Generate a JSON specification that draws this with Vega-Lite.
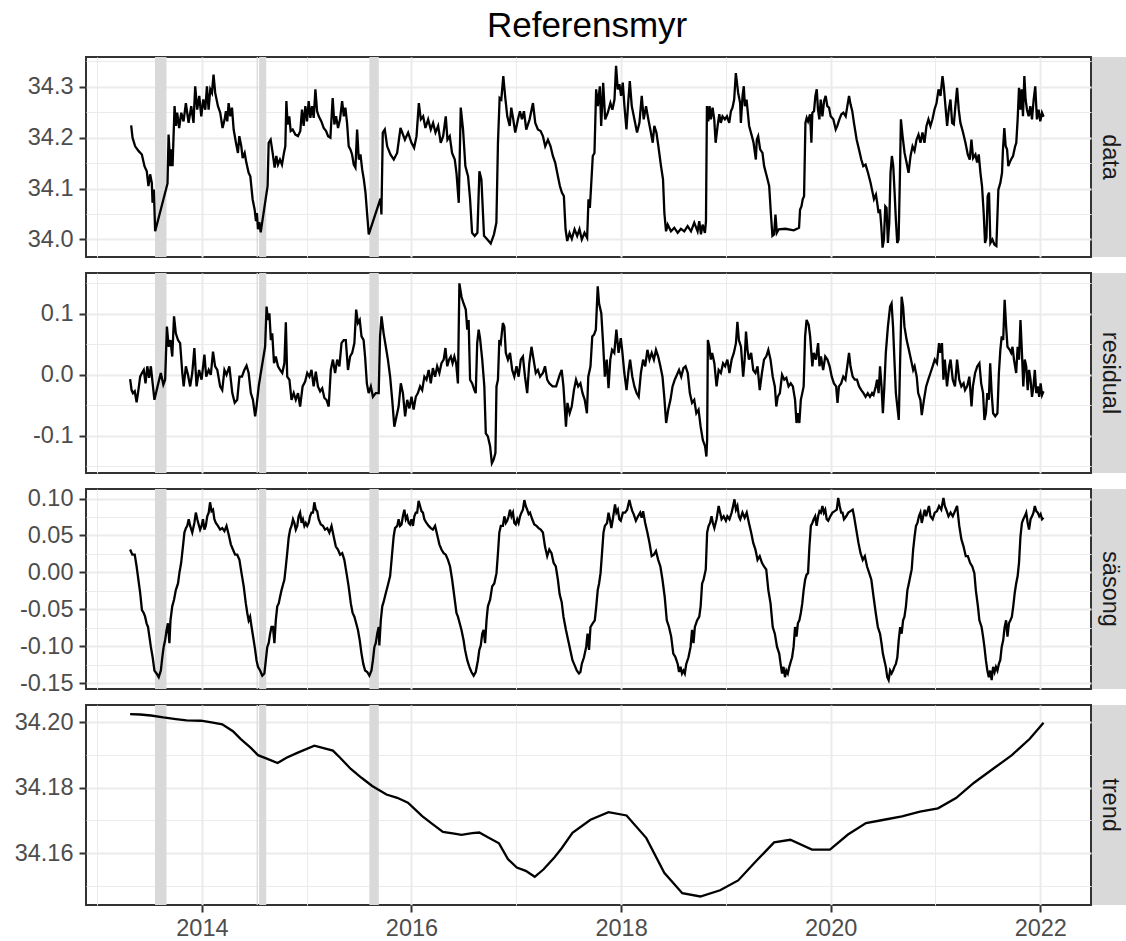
{
  "$schema": "https://vega.github.io/schema/vega-lite/v6.json",
  "background": "white",
  "padding": {"left": 13, "top": 9, "right": 0, "bottom": 0},
  "autosize": {"type": "pad"},
  "title": {"text": "Referensmyr", "fontSize": 35, "font": "Liberation Sans", "fontWeight": "normal", "color": "#000000", "anchor": "middle", "offset": 4, "dx": 17},
  "config": {
    "font": "Liberation Sans",
    "view": {"stroke": "#333333", "strokeWidth": 2},
    "axis": {"labelFont": "Liberation Sans", "labelFontSize": 23.5, "labelColor": "#4D4D4D", "tickColor": "#333333", "tickWidth": 2, "tickSize": 7, "domain": false, "gridColor": "#EBEBEB", "title": null, "labelOverlap": false, "labelFlush": false},
    "axisX": {"labelPadding": 4},
    "axisY": {"labelPadding": 6}
  },
  "datasets": {
    "bands": [{"s": 2013.552, "e": 2013.662}, {"s": 2014.522, "e": 2014.534}, {"s": 2014.546, "e": 2014.614}, {"s": 2015.598, "e": 2015.688}],
    "raw": [
{"t":2013.325,"v":34.224},{"t":2013.338,"v":34.200},{"t":2013.363,"v":34.183},{"t":2013.395,"v":34.174},{"t":2013.427,"v":34.167},{"t":2013.452,"v":34.144},{"t":2013.474,"v":34.134},{"t":2013.490,"v":34.105},{"t":2013.506,"v":34.128},{"t":2013.522,"v":34.111},{"t":2013.529,"v":34.072},{"t":2013.541,"v":34.098},{"t":2013.554,"v":34.016},{"t":2013.672,"v":34.110},{"t":2013.682,"v":34.206},{"t":2013.698,"v":34.144},{"t":2013.707,"v":34.177},{"t":2013.720,"v":34.144},{"t":2013.739,"v":34.262},{"t":2013.752,"v":34.223},{"t":2013.764,"v":34.249},{"t":2013.783,"v":34.219},{"t":2013.803,"v":34.249},{"t":2013.825,"v":34.232},{"t":2013.847,"v":34.268},{"t":2013.873,"v":34.229},{"t":2013.898,"v":34.262},{"t":2013.920,"v":34.229},{"t":2013.936,"v":34.301},{"t":2013.955,"v":34.255},{"t":2013.975,"v":34.282},{"t":2013.994,"v":34.242},{"t":2014.013,"v":34.275},{"t":2014.032,"v":34.255},{"t":2014.048,"v":34.301},{"t":2014.064,"v":34.255},{"t":2014.080,"v":34.295},{"t":2014.096,"v":34.288},{"t":2014.111,"v":34.324},{"t":2014.127,"v":34.288},{"t":2014.153,"v":34.262},{"t":2014.175,"v":34.249},{"t":2014.197,"v":34.219},{"t":2014.217,"v":34.236},{"t":2014.229,"v":34.252},{"t":2014.242,"v":34.232},{"t":2014.255,"v":34.268},{"t":2014.271,"v":34.242},{"t":2014.287,"v":34.259},{"t":2014.303,"v":34.216},{"t":2014.325,"v":34.190},{"t":2014.344,"v":34.170},{"t":2014.357,"v":34.203},{"t":2014.376,"v":34.183},{"t":2014.389,"v":34.160},{"t":2014.408,"v":34.170},{"t":2014.424,"v":34.151},{"t":2014.446,"v":34.131},{"t":2014.462,"v":34.124},{"t":2014.484,"v":34.079},{"t":2014.503,"v":34.059},{"t":2014.516,"v":34.036},{"t":2014.525,"v":34.052},{"t":2014.535,"v":34.020},{"t":2014.548,"v":34.034},{"t":2014.561,"v":34.014},{"t":2014.627,"v":34.105},{"t":2014.637,"v":34.190},{"t":2014.656,"v":34.196},{"t":2014.675,"v":34.170},{"t":2014.694,"v":34.141},{"t":2014.710,"v":34.164},{"t":2014.726,"v":34.147},{"t":2014.745,"v":34.157},{"t":2014.764,"v":34.147},{"t":2014.783,"v":34.170},{"t":2014.796,"v":34.183},{"t":2014.806,"v":34.272},{"t":2014.818,"v":34.226},{"t":2014.834,"v":34.242},{"t":2014.847,"v":34.213},{"t":2014.866,"v":34.216},{"t":2014.892,"v":34.206},{"t":2014.917,"v":34.203},{"t":2014.939,"v":34.213},{"t":2014.955,"v":34.255},{"t":2014.971,"v":34.223},{"t":2014.987,"v":34.262},{"t":2015.003,"v":34.232},{"t":2015.019,"v":34.272},{"t":2015.035,"v":34.239},{"t":2015.051,"v":34.262},{"t":2015.067,"v":34.239},{"t":2015.083,"v":34.295},{"t":2015.099,"v":34.252},{"t":2015.115,"v":34.242},{"t":2015.140,"v":34.232},{"t":2015.162,"v":34.219},{"t":2015.185,"v":34.213},{"t":2015.204,"v":34.203},{"t":2015.226,"v":34.200},{"t":2015.248,"v":34.278},{"t":2015.264,"v":34.226},{"t":2015.280,"v":34.242},{"t":2015.299,"v":34.219},{"t":2015.318,"v":34.236},{"t":2015.338,"v":34.272},{"t":2015.354,"v":34.242},{"t":2015.369,"v":34.259},{"t":2015.385,"v":34.229},{"t":2015.401,"v":34.183},{"t":2015.417,"v":34.177},{"t":2015.433,"v":34.167},{"t":2015.449,"v":34.147},{"t":2015.465,"v":34.141},{"t":2015.481,"v":34.216},{"t":2015.497,"v":34.157},{"t":2015.513,"v":34.167},{"t":2015.529,"v":34.138},{"t":2015.545,"v":34.118},{"t":2015.561,"v":34.092},{"t":2015.576,"v":34.052},{"t":2015.592,"v":34.010},{"t":2015.704,"v":34.080},{"t":2015.713,"v":34.049},{"t":2015.726,"v":34.210},{"t":2015.745,"v":34.216},{"t":2015.768,"v":34.183},{"t":2015.799,"v":34.167},{"t":2015.831,"v":34.157},{"t":2015.863,"v":34.170},{"t":2015.895,"v":34.219},{"t":2015.937,"v":34.196},{"t":2015.968,"v":34.210},{"t":2016.000,"v":34.190},{"t":2016.025,"v":34.180},{"t":2016.048,"v":34.203},{"t":2016.070,"v":34.268},{"t":2016.089,"v":34.236},{"t":2016.111,"v":34.242},{"t":2016.133,"v":34.219},{"t":2016.159,"v":34.236},{"t":2016.184,"v":34.216},{"t":2016.206,"v":34.229},{"t":2016.229,"v":34.210},{"t":2016.254,"v":34.223},{"t":2016.279,"v":34.190},{"t":2016.302,"v":34.203},{"t":2016.327,"v":34.242},{"t":2016.343,"v":34.196},{"t":2016.365,"v":34.203},{"t":2016.387,"v":34.170},{"t":2016.413,"v":34.157},{"t":2016.429,"v":34.131},{"t":2016.451,"v":34.072},{"t":2016.470,"v":34.259},{"t":2016.492,"v":34.216},{"t":2016.514,"v":34.144},{"t":2016.540,"v":34.124},{"t":2016.559,"v":34.079},{"t":2016.578,"v":34.013},{"t":2016.603,"v":34.007},{"t":2016.629,"v":34.013},{"t":2016.648,"v":34.134},{"t":2016.667,"v":34.118},{"t":2016.692,"v":34.007},{"t":2016.724,"v":34.000},{"t":2016.756,"v":33.992},{"t":2016.787,"v":34.010},{"t":2016.810,"v":34.033},{"t":2016.825,"v":34.190},{"t":2016.841,"v":34.278},{"t":2016.857,"v":34.275},{"t":2016.876,"v":34.321},{"t":2016.895,"v":34.278},{"t":2016.914,"v":34.242},{"t":2016.937,"v":34.223},{"t":2016.952,"v":34.259},{"t":2016.971,"v":34.236},{"t":2016.990,"v":34.210},{"t":2017.016,"v":34.236},{"t":2017.035,"v":34.252},{"t":2017.054,"v":34.236},{"t":2017.073,"v":34.252},{"t":2017.095,"v":34.216},{"t":2017.127,"v":34.236},{"t":2017.159,"v":34.268},{"t":2017.181,"v":34.229},{"t":2017.206,"v":34.216},{"t":2017.232,"v":34.213},{"t":2017.254,"v":34.203},{"t":2017.276,"v":34.183},{"t":2017.302,"v":34.196},{"t":2017.327,"v":34.183},{"t":2017.349,"v":34.164},{"t":2017.371,"v":34.151},{"t":2017.397,"v":34.124},{"t":2017.416,"v":34.105},{"t":2017.435,"v":34.092},{"t":2017.454,"v":34.085},{"t":2017.470,"v":34.020},{"t":2017.486,"v":33.997},{"t":2017.508,"v":34.013},{"t":2017.530,"v":34.001},{"t":2017.556,"v":34.020},{"t":2017.581,"v":34.007},{"t":2017.603,"v":34.020},{"t":2017.625,"v":34.000},{"t":2017.651,"v":34.013},{"t":2017.676,"v":34.003},{"t":2017.689,"v":34.079},{"t":2017.702,"v":34.062},{"t":2017.714,"v":34.105},{"t":2017.730,"v":34.164},{"t":2017.746,"v":34.170},{"t":2017.762,"v":34.295},{"t":2017.778,"v":34.262},{"t":2017.797,"v":34.301},{"t":2017.810,"v":34.223},{"t":2017.829,"v":34.308},{"t":2017.848,"v":34.236},{"t":2017.873,"v":34.249},{"t":2017.898,"v":34.268},{"t":2017.917,"v":34.255},{"t":2017.937,"v":34.275},{"t":2017.952,"v":34.341},{"t":2017.968,"v":34.295},{"t":2017.984,"v":34.305},{"t":2018.000,"v":34.282},{"t":2018.016,"v":34.308},{"t":2018.032,"v":34.262},{"t":2018.051,"v":34.216},{"t":2018.070,"v":34.275},{"t":2018.083,"v":34.311},{"t":2018.102,"v":34.262},{"t":2018.127,"v":34.236},{"t":2018.152,"v":34.210},{"t":2018.175,"v":34.229},{"t":2018.197,"v":34.282},{"t":2018.216,"v":34.236},{"t":2018.238,"v":34.262},{"t":2018.260,"v":34.236},{"t":2018.279,"v":34.216},{"t":2018.302,"v":34.190},{"t":2018.317,"v":34.223},{"t":2018.337,"v":34.210},{"t":2018.356,"v":34.183},{"t":2018.381,"v":34.144},{"t":2018.400,"v":34.118},{"t":2018.413,"v":34.052},{"t":2018.429,"v":34.016},{"t":2018.445,"v":34.029},{"t":2018.476,"v":34.016},{"t":2018.508,"v":34.023},{"t":2018.540,"v":34.013},{"t":2018.571,"v":34.021},{"t":2018.603,"v":34.016},{"t":2018.635,"v":34.026},{"t":2018.667,"v":34.016},{"t":2018.698,"v":34.033},{"t":2018.730,"v":34.016},{"t":2018.746,"v":34.036},{"t":2018.762,"v":34.010},{"t":2018.778,"v":34.029},{"t":2018.800,"v":34.013},{"t":2018.810,"v":34.036},{"t":2018.819,"v":34.262},{"t":2018.832,"v":34.232},{"t":2018.844,"v":34.262},{"t":2018.857,"v":34.236},{"t":2018.873,"v":34.259},{"t":2018.889,"v":34.236},{"t":2018.902,"v":34.190},{"t":2018.921,"v":34.223},{"t":2018.937,"v":34.246},{"t":2018.952,"v":34.229},{"t":2018.968,"v":34.242},{"t":2018.990,"v":34.236},{"t":2019.010,"v":34.242},{"t":2019.032,"v":34.229},{"t":2019.048,"v":34.252},{"t":2019.063,"v":34.259},{"t":2019.079,"v":34.275},{"t":2019.095,"v":34.327},{"t":2019.117,"v":34.288},{"t":2019.136,"v":34.268},{"t":2019.143,"v":34.229},{"t":2019.159,"v":34.282},{"t":2019.171,"v":34.301},{"t":2019.181,"v":34.262},{"t":2019.197,"v":34.275},{"t":2019.222,"v":34.223},{"t":2019.248,"v":34.203},{"t":2019.264,"v":34.190},{"t":2019.286,"v":34.157},{"t":2019.295,"v":34.196},{"t":2019.308,"v":34.203},{"t":2019.327,"v":34.177},{"t":2019.349,"v":34.170},{"t":2019.365,"v":34.144},{"t":2019.390,"v":34.124},{"t":2019.413,"v":34.105},{"t":2019.429,"v":34.052},{"t":2019.444,"v":34.007},{"t":2019.460,"v":34.010},{"t":2019.473,"v":34.049},{"t":2019.486,"v":34.013},{"t":2019.505,"v":34.020},{"t":2019.568,"v":34.021},{"t":2019.648,"v":34.018},{"t":2019.698,"v":34.023},{"t":2019.708,"v":34.059},{"t":2019.721,"v":34.065},{"t":2019.733,"v":34.079},{"t":2019.746,"v":34.085},{"t":2019.759,"v":34.229},{"t":2019.771,"v":34.239},{"t":2019.784,"v":34.232},{"t":2019.803,"v":34.246},{"t":2019.816,"v":34.190},{"t":2019.825,"v":34.249},{"t":2019.841,"v":34.252},{"t":2019.854,"v":34.282},{"t":2019.867,"v":34.295},{"t":2019.879,"v":34.255},{"t":2019.892,"v":34.236},{"t":2019.905,"v":34.275},{"t":2019.921,"v":34.242},{"t":2019.937,"v":34.272},{"t":2019.952,"v":34.282},{"t":2019.968,"v":34.262},{"t":2019.984,"v":34.259},{"t":2020.000,"v":34.242},{"t":2020.025,"v":34.236},{"t":2020.048,"v":34.216},{"t":2020.063,"v":34.223},{"t":2020.083,"v":34.236},{"t":2020.102,"v":34.246},{"t":2020.121,"v":34.249},{"t":2020.143,"v":34.242},{"t":2020.159,"v":34.262},{"t":2020.175,"v":34.282},{"t":2020.190,"v":34.265},{"t":2020.206,"v":34.252},{"t":2020.222,"v":34.229},{"t":2020.248,"v":34.196},{"t":2020.270,"v":34.177},{"t":2020.292,"v":34.157},{"t":2020.311,"v":34.144},{"t":2020.333,"v":34.147},{"t":2020.356,"v":34.131},{"t":2020.381,"v":34.111},{"t":2020.400,"v":34.092},{"t":2020.413,"v":34.079},{"t":2020.432,"v":34.088},{"t":2020.444,"v":34.072},{"t":2020.457,"v":34.052},{"t":2020.470,"v":34.059},{"t":2020.483,"v":34.026},{"t":2020.495,"v":33.984},{"t":2020.508,"v":34.000},{"t":2020.521,"v":34.065},{"t":2020.533,"v":34.062},{"t":2020.546,"v":33.993},{"t":2020.559,"v":34.033},{"t":2020.571,"v":34.131},{"t":2020.584,"v":34.164},{"t":2020.597,"v":34.144},{"t":2020.610,"v":34.092},{"t":2020.622,"v":34.039},{"t":2020.635,"v":33.993},{"t":2020.648,"v":34.000},{"t":2020.660,"v":34.118},{"t":2020.670,"v":34.236},{"t":2020.686,"v":34.203},{"t":2020.705,"v":34.170},{"t":2020.724,"v":34.151},{"t":2020.743,"v":34.131},{"t":2020.762,"v":34.164},{"t":2020.781,"v":34.183},{"t":2020.800,"v":34.174},{"t":2020.819,"v":34.196},{"t":2020.838,"v":34.206},{"t":2020.857,"v":34.190},{"t":2020.876,"v":34.210},{"t":2020.895,"v":34.190},{"t":2020.914,"v":34.223},{"t":2020.933,"v":34.236},{"t":2020.952,"v":34.223},{"t":2020.971,"v":34.236},{"t":2020.990,"v":34.255},{"t":2021.010,"v":34.268},{"t":2021.029,"v":34.295},{"t":2021.048,"v":34.282},{"t":2021.067,"v":34.321},{"t":2021.079,"v":34.301},{"t":2021.095,"v":34.262},{"t":2021.111,"v":34.223},{"t":2021.127,"v":34.255},{"t":2021.143,"v":34.275},{"t":2021.159,"v":34.229},{"t":2021.175,"v":34.226},{"t":2021.190,"v":34.262},{"t":2021.206,"v":34.298},{"t":2021.222,"v":34.255},{"t":2021.238,"v":34.229},{"t":2021.263,"v":34.210},{"t":2021.286,"v":34.190},{"t":2021.308,"v":34.167},{"t":2021.327,"v":34.157},{"t":2021.343,"v":34.196},{"t":2021.359,"v":34.160},{"t":2021.381,"v":34.167},{"t":2021.397,"v":34.151},{"t":2021.413,"v":34.167},{"t":2021.429,"v":34.131},{"t":2021.444,"v":34.105},{"t":2021.460,"v":34.052},{"t":2021.473,"v":33.993},{"t":2021.486,"v":34.003},{"t":2021.498,"v":34.085},{"t":2021.511,"v":34.092},{"t":2021.524,"v":33.993},{"t":2021.543,"v":34.000},{"t":2021.562,"v":33.990},{"t":2021.581,"v":33.987},{"t":2021.600,"v":34.098},{"t":2021.619,"v":34.111},{"t":2021.635,"v":34.131},{"t":2021.644,"v":34.177},{"t":2021.657,"v":34.219},{"t":2021.670,"v":34.183},{"t":2021.683,"v":34.177},{"t":2021.695,"v":34.144},{"t":2021.708,"v":34.151},{"t":2021.721,"v":34.157},{"t":2021.740,"v":34.164},{"t":2021.760,"v":34.183},{"t":2021.771,"v":34.190},{"t":2021.784,"v":34.236},{"t":2021.797,"v":34.298},{"t":2021.810,"v":34.255},{"t":2021.822,"v":34.295},{"t":2021.835,"v":34.242},{"t":2021.848,"v":34.321},{"t":2021.860,"v":34.275},{"t":2021.873,"v":34.255},{"t":2021.889,"v":34.242},{"t":2021.905,"v":34.262},{"t":2021.921,"v":34.236},{"t":2021.937,"v":34.275},{"t":2021.952,"v":34.301},{"t":2021.968,"v":34.236},{"t":2021.984,"v":34.255},{"t":2022.000,"v":34.232},{"t":2022.016,"v":34.249},{"t":2022.032,"v":34.241}
    ],
    "resid": [
{"t":2013.315,"v":-0.007},{"t":2013.329,"v":-0.025},{"t":2013.342,"v":-0.030},{"t":2013.359,"v":-0.027},{"t":2013.377,"v":-0.045},{"t":2013.394,"v":-0.025},{"t":2013.411,"v":-0.003},{"t":2013.428,"v":0.003},{"t":2013.445,"v":0.008},{"t":2013.462,"v":-0.014},{"t":2013.479,"v":0.014},{"t":2013.496,"v":-0.005},{"t":2013.513,"v":0.014},{"t":2013.530,"v":-0.014},{"t":2013.547,"v":-0.041},{"t":2013.581,"v":-0.016},{"t":2013.608,"v":0.003},{"t":2013.632,"v":-0.016},{"t":2013.649,"v":-0.008},{"t":2013.666,"v":0.079},{"t":2013.683,"v":0.046},{"t":2013.700,"v":0.057},{"t":2013.717,"v":0.030},{"t":2013.734,"v":0.096},{"t":2013.751,"v":0.068},{"t":2013.772,"v":0.057},{"t":2013.792,"v":0.052},{"t":2013.813,"v":0.003},{"t":2013.826,"v":-0.019},{"t":2013.847,"v":0.014},{"t":2013.867,"v":0.000},{"t":2013.888,"v":-0.019},{"t":2013.908,"v":0.003},{"t":2013.928,"v":0.044},{"t":2013.949,"v":-0.019},{"t":2013.973,"v":0.008},{"t":2013.997,"v":-0.008},{"t":2014.024,"v":0.033},{"t":2014.041,"v":-0.003},{"t":2014.065,"v":0.008},{"t":2014.085,"v":0.000},{"t":2014.106,"v":0.038},{"t":2014.126,"v":0.014},{"t":2014.147,"v":0.008},{"t":2014.174,"v":-0.019},{"t":2014.194,"v":-0.025},{"t":2014.215,"v":0.008},{"t":2014.235,"v":0.000},{"t":2014.262,"v":0.014},{"t":2014.290,"v":-0.030},{"t":2014.313,"v":-0.046},{"t":2014.337,"v":-0.041},{"t":2014.358,"v":-0.003},{"t":2014.382,"v":-0.003},{"t":2014.405,"v":0.008},{"t":2014.426,"v":0.015},{"t":2014.446,"v":0.003},{"t":2014.467,"v":-0.030},{"t":2014.487,"v":-0.041},{"t":2014.508,"v":-0.068},{"t":2014.521,"v":-0.052},{"t":2014.542,"v":-0.019},{"t":2014.562,"v":0.003},{"t":2014.583,"v":0.025},{"t":2014.603,"v":0.046},{"t":2014.617,"v":0.112},{"t":2014.630,"v":0.090},{"t":2014.644,"v":0.101},{"t":2014.658,"v":0.057},{"t":2014.671,"v":0.068},{"t":2014.688,"v":0.019},{"t":2014.705,"v":0.030},{"t":2014.726,"v":0.014},{"t":2014.746,"v":0.008},{"t":2014.767,"v":0.003},{"t":2014.787,"v":0.019},{"t":2014.801,"v":0.086},{"t":2014.814,"v":-0.003},{"t":2014.835,"v":-0.008},{"t":2014.855,"v":-0.041},{"t":2014.876,"v":-0.030},{"t":2014.896,"v":-0.041},{"t":2014.917,"v":-0.030},{"t":2014.937,"v":-0.052},{"t":2014.961,"v":-0.019},{"t":2014.985,"v":-0.011},{"t":2015.005,"v":0.003},{"t":2015.026,"v":-0.003},{"t":2015.046,"v":0.008},{"t":2015.066,"v":-0.019},{"t":2015.087,"v":0.005},{"t":2015.107,"v":-0.019},{"t":2015.128,"v":-0.027},{"t":2015.148,"v":-0.022},{"t":2015.169,"v":-0.038},{"t":2015.189,"v":-0.041},{"t":2015.210,"v":-0.052},{"t":2015.230,"v":0.008},{"t":2015.250,"v":0.025},{"t":2015.271,"v":0.003},{"t":2015.291,"v":0.025},{"t":2015.312,"v":0.014},{"t":2015.332,"v":0.052},{"t":2015.353,"v":0.057},{"t":2015.373,"v":0.057},{"t":2015.394,"v":0.008},{"t":2015.414,"v":0.030},{"t":2015.434,"v":0.036},{"t":2015.455,"v":0.052},{"t":2015.472,"v":0.107},{"t":2015.489,"v":0.085},{"t":2015.506,"v":0.090},{"t":2015.523,"v":0.063},{"t":2015.543,"v":0.057},{"t":2015.557,"v":0.030},{"t":2015.574,"v":-0.014},{"t":2015.591,"v":-0.030},{"t":2015.612,"v":-0.019},{"t":2015.632,"v":-0.036},{"t":2015.659,"v":-0.030},{"t":2015.687,"v":-0.030},{"t":2015.700,"v":0.063},{"t":2015.714,"v":0.096},{"t":2015.734,"v":0.068},{"t":2015.755,"v":0.046},{"t":2015.775,"v":0.025},{"t":2015.796,"v":-0.003},{"t":2015.816,"v":-0.041},{"t":2015.836,"v":-0.085},{"t":2015.857,"v":-0.068},{"t":2015.877,"v":-0.052},{"t":2015.898,"v":-0.014},{"t":2015.918,"v":-0.030},{"t":2015.939,"v":-0.068},{"t":2015.959,"v":-0.041},{"t":2015.980,"v":-0.055},{"t":2016.000,"v":-0.036},{"t":2016.020,"v":-0.057},{"t":2016.041,"v":-0.036},{"t":2016.061,"v":-0.030},{"t":2016.082,"v":-0.019},{"t":2016.102,"v":-0.025},{"t":2016.123,"v":-0.003},{"t":2016.143,"v":-0.008},{"t":2016.164,"v":0.008},{"t":2016.184,"v":-0.014},{"t":2016.204,"v":0.011},{"t":2016.225,"v":-0.003},{"t":2016.245,"v":0.014},{"t":2016.266,"v":0.003},{"t":2016.286,"v":0.019},{"t":2016.307,"v":0.025},{"t":2016.324,"v":0.044},{"t":2016.341,"v":0.014},{"t":2016.358,"v":0.025},{"t":2016.375,"v":0.030},{"t":2016.392,"v":0.019},{"t":2016.409,"v":0.030},{"t":2016.426,"v":0.019},{"t":2016.443,"v":-0.014},{"t":2016.457,"v":0.150},{"t":2016.477,"v":0.128},{"t":2016.497,"v":0.117},{"t":2016.518,"v":0.107},{"t":2016.532,"v":0.074},{"t":2016.545,"v":0.090},{"t":2016.559,"v":-0.008},{"t":2016.579,"v":-0.014},{"t":2016.600,"v":-0.025},{"t":2016.613,"v":-0.030},{"t":2016.627,"v":0.052},{"t":2016.641,"v":0.074},{"t":2016.654,"v":0.060},{"t":2016.675,"v":0.025},{"t":2016.695,"v":-0.019},{"t":2016.709,"v":-0.096},{"t":2016.729,"v":-0.101},{"t":2016.750,"v":-0.117},{"t":2016.767,"v":-0.145},{"t":2016.784,"v":-0.139},{"t":2016.801,"v":-0.128},{"t":2016.811,"v":-0.019},{"t":2016.825,"v":-0.008},{"t":2016.838,"v":0.057},{"t":2016.852,"v":0.052},{"t":2016.872,"v":0.085},{"t":2016.886,"v":0.079},{"t":2016.900,"v":0.036},{"t":2016.920,"v":0.025},{"t":2016.940,"v":0.036},{"t":2016.961,"v":0.008},{"t":2016.981,"v":-0.003},{"t":2017.002,"v":0.014},{"t":2017.022,"v":-0.003},{"t":2017.043,"v":0.025},{"t":2017.063,"v":0.030},{"t":2017.083,"v":-0.003},{"t":2017.104,"v":-0.030},{"t":2017.124,"v":0.019},{"t":2017.145,"v":0.046},{"t":2017.165,"v":0.025},{"t":2017.186,"v":0.003},{"t":2017.206,"v":0.008},{"t":2017.227,"v":-0.003},{"t":2017.254,"v":0.003},{"t":2017.274,"v":0.014},{"t":2017.295,"v":-0.008},{"t":2017.315,"v":-0.014},{"t":2017.346,"v":-0.019},{"t":2017.380,"v":-0.019},{"t":2017.414,"v":0.000},{"t":2017.433,"v":0.008},{"t":2017.450,"v":-0.019},{"t":2017.474,"v":-0.085},{"t":2017.488,"v":-0.046},{"t":2017.509,"v":-0.063},{"t":2017.529,"v":-0.052},{"t":2017.550,"v":-0.025},{"t":2017.570,"v":-0.008},{"t":2017.591,"v":-0.019},{"t":2017.612,"v":-0.014},{"t":2017.632,"v":-0.030},{"t":2017.653,"v":-0.041},{"t":2017.674,"v":-0.063},{"t":2017.687,"v":-0.003},{"t":2017.708,"v":0.014},{"t":2017.725,"v":0.063},{"t":2017.742,"v":0.066},{"t":2017.759,"v":0.074},{"t":2017.777,"v":0.145},{"t":2017.790,"v":0.117},{"t":2017.811,"v":0.101},{"t":2017.828,"v":0.052},{"t":2017.845,"v":-0.003},{"t":2017.863,"v":0.025},{"t":2017.880,"v":-0.022},{"t":2017.897,"v":0.025},{"t":2017.914,"v":0.041},{"t":2017.935,"v":0.036},{"t":2017.955,"v":0.074},{"t":2017.976,"v":0.036},{"t":2017.997,"v":0.060},{"t":2018.010,"v":0.041},{"t":2018.031,"v":0.003},{"t":2018.052,"v":-0.025},{"t":2018.072,"v":0.008},{"t":2018.086,"v":0.025},{"t":2018.107,"v":-0.003},{"t":2018.127,"v":-0.019},{"t":2018.148,"v":-0.030},{"t":2018.168,"v":-0.036},{"t":2018.189,"v":0.003},{"t":2018.210,"v":0.025},{"t":2018.230,"v":0.014},{"t":2018.251,"v":0.041},{"t":2018.271,"v":0.025},{"t":2018.292,"v":0.036},{"t":2018.313,"v":0.025},{"t":2018.333,"v":0.041},{"t":2018.354,"v":0.030},{"t":2018.375,"v":0.014},{"t":2018.395,"v":-0.003},{"t":2018.412,"v":-0.036},{"t":2018.430,"v":-0.079},{"t":2018.450,"v":-0.057},{"t":2018.471,"v":-0.041},{"t":2018.491,"v":-0.019},{"t":2018.512,"v":-0.008},{"t":2018.533,"v":0.000},{"t":2018.553,"v":0.008},{"t":2018.574,"v":-0.003},{"t":2018.595,"v":0.011},{"t":2018.615,"v":0.014},{"t":2018.636,"v":0.003},{"t":2018.656,"v":-0.030},{"t":2018.677,"v":-0.046},{"t":2018.698,"v":-0.041},{"t":2018.718,"v":-0.063},{"t":2018.739,"v":-0.057},{"t":2018.759,"v":-0.085},{"t":2018.780,"v":-0.107},{"t":2018.801,"v":-0.117},{"t":2018.814,"v":-0.134},{"t":2018.821,"v":-0.107},{"t":2018.828,"v":0.057},{"t":2018.842,"v":0.046},{"t":2018.856,"v":0.025},{"t":2018.869,"v":0.036},{"t":2018.890,"v":0.019},{"t":2018.911,"v":-0.019},{"t":2018.931,"v":0.008},{"t":2018.952,"v":0.003},{"t":2018.973,"v":0.019},{"t":2018.993,"v":0.014},{"t":2019.014,"v":0.025},{"t":2019.034,"v":0.003},{"t":2019.055,"v":0.025},{"t":2019.076,"v":0.036},{"t":2019.096,"v":0.052},{"t":2019.110,"v":0.087},{"t":2019.124,"v":0.057},{"t":2019.144,"v":0.046},{"t":2019.165,"v":-0.003},{"t":2019.179,"v":0.025},{"t":2019.192,"v":0.071},{"t":2019.206,"v":0.041},{"t":2019.220,"v":0.025},{"t":2019.241,"v":0.036},{"t":2019.261,"v":0.008},{"t":2019.282,"v":0.003},{"t":2019.302,"v":0.014},{"t":2019.323,"v":-0.025},{"t":2019.344,"v":0.003},{"t":2019.364,"v":0.025},{"t":2019.385,"v":0.030},{"t":2019.405,"v":0.041},{"t":2019.426,"v":0.025},{"t":2019.447,"v":-0.003},{"t":2019.467,"v":-0.019},{"t":2019.481,"v":-0.052},{"t":2019.495,"v":-0.036},{"t":2019.515,"v":-0.030},{"t":2019.536,"v":0.000},{"t":2019.557,"v":-0.008},{"t":2019.577,"v":-0.005},{"t":2019.598,"v":-0.019},{"t":2019.619,"v":-0.014},{"t":2019.639,"v":-0.019},{"t":2019.660,"v":-0.041},{"t":2019.674,"v":-0.079},{"t":2019.687,"v":-0.063},{"t":2019.701,"v":-0.079},{"t":2019.715,"v":-0.041},{"t":2019.729,"v":-0.030},{"t":2019.742,"v":-0.019},{"t":2019.756,"v":0.063},{"t":2019.770,"v":0.090},{"t":2019.790,"v":0.082},{"t":2019.804,"v":0.063},{"t":2019.825,"v":0.014},{"t":2019.838,"v":0.036},{"t":2019.859,"v":0.025},{"t":2019.880,"v":0.052},{"t":2019.893,"v":0.014},{"t":2019.907,"v":0.030},{"t":2019.928,"v":0.008},{"t":2019.948,"v":0.030},{"t":2019.969,"v":0.025},{"t":2019.990,"v":0.014},{"t":2020.010,"v":-0.003},{"t":2020.031,"v":-0.014},{"t":2020.052,"v":-0.019},{"t":2020.065,"v":-0.046},{"t":2020.079,"v":-0.019},{"t":2020.100,"v":-0.014},{"t":2020.120,"v":-0.003},{"t":2020.141,"v":-0.008},{"t":2020.162,"v":0.019},{"t":2020.175,"v":0.036},{"t":2020.189,"v":0.014},{"t":2020.210,"v":-0.003},{"t":2020.230,"v":-0.008},{"t":2020.251,"v":-0.008},{"t":2020.271,"v":-0.019},{"t":2020.292,"v":-0.025},{"t":2020.313,"v":-0.030},{"t":2020.333,"v":-0.036},{"t":2020.354,"v":-0.030},{"t":2020.375,"v":-0.036},{"t":2020.395,"v":-0.030},{"t":2020.409,"v":-0.033},{"t":2020.430,"v":-0.019},{"t":2020.443,"v":-0.008},{"t":2020.457,"v":-0.030},{"t":2020.471,"v":0.014},{"t":2020.485,"v":-0.019},{"t":2020.498,"v":-0.063},{"t":2020.512,"v":-0.019},{"t":2020.526,"v":0.036},{"t":2020.546,"v":0.079},{"t":2020.567,"v":0.112},{"t":2020.581,"v":0.117},{"t":2020.595,"v":0.079},{"t":2020.608,"v":0.025},{"t":2020.622,"v":-0.030},{"t":2020.636,"v":-0.052},{"t":2020.650,"v":-0.074},{"t":2020.663,"v":0.025},{"t":2020.677,"v":0.128},{"t":2020.691,"v":0.112},{"t":2020.704,"v":0.079},{"t":2020.725,"v":0.057},{"t":2020.746,"v":0.041},{"t":2020.766,"v":0.025},{"t":2020.787,"v":0.008},{"t":2020.801,"v":0.014},{"t":2020.821,"v":-0.003},{"t":2020.835,"v":-0.030},{"t":2020.856,"v":-0.041},{"t":2020.869,"v":-0.066},{"t":2020.890,"v":-0.041},{"t":2020.911,"v":-0.019},{"t":2020.931,"v":-0.008},{"t":2020.952,"v":0.003},{"t":2020.973,"v":0.014},{"t":2020.993,"v":0.025},{"t":2021.014,"v":0.019},{"t":2021.034,"v":0.052},{"t":2021.048,"v":0.036},{"t":2021.062,"v":0.052},{"t":2021.076,"v":-0.008},{"t":2021.089,"v":0.025},{"t":2021.110,"v":-0.019},{"t":2021.131,"v":0.014},{"t":2021.144,"v":0.025},{"t":2021.165,"v":-0.008},{"t":2021.186,"v":-0.019},{"t":2021.206,"v":0.025},{"t":2021.227,"v":-0.008},{"t":2021.247,"v":-0.019},{"t":2021.268,"v":-0.014},{"t":2021.282,"v":-0.025},{"t":2021.302,"v":-0.019},{"t":2021.323,"v":-0.003},{"t":2021.344,"v":-0.052},{"t":2021.357,"v":-0.019},{"t":2021.378,"v":0.003},{"t":2021.399,"v":0.014},{"t":2021.419,"v":0.019},{"t":2021.436,"v":-0.014},{"t":2021.454,"v":-0.030},{"t":2021.467,"v":-0.074},{"t":2021.481,"v":-0.063},{"t":2021.495,"v":-0.030},{"t":2021.509,"v":-0.041},{"t":2021.522,"v":0.019},{"t":2021.536,"v":-0.030},{"t":2021.550,"v":-0.063},{"t":2021.570,"v":-0.068},{"t":2021.591,"v":-0.063},{"t":2021.605,"v":0.003},{"t":2021.619,"v":0.041},{"t":2021.632,"v":0.063},{"t":2021.646,"v":0.057},{"t":2021.660,"v":0.123},{"t":2021.674,"v":0.079},{"t":2021.687,"v":0.046},{"t":2021.708,"v":0.041},{"t":2021.722,"v":0.036},{"t":2021.735,"v":0.046},{"t":2021.749,"v":0.025},{"t":2021.770,"v":0.003},{"t":2021.784,"v":0.046},{"t":2021.797,"v":0.025},{"t":2021.811,"v":0.090},{"t":2021.825,"v":0.036},{"t":2021.838,"v":-0.019},{"t":2021.852,"v":0.025},{"t":2021.866,"v":0.014},{"t":2021.880,"v":-0.025},{"t":2021.893,"v":0.008},{"t":2021.907,"v":-0.008},{"t":2021.921,"v":-0.036},{"t":2021.935,"v":-0.019},{"t":2021.948,"v":0.008},{"t":2021.962,"v":-0.030},{"t":2021.976,"v":-0.019},{"t":2021.990,"v":-0.036},{"t":2022.003,"v":-0.014},{"t":2022.017,"v":-0.033},{"t":2022.031,"v":-0.027}
    ],
    "seas": [
{"t":2013.315,"v":0.031},{"t":2013.336,"v":0.024},{"t":2013.359,"v":0.024},{"t":2013.377,"v":0.008},{"t":2013.394,"v":-0.010},{"t":2013.411,"v":-0.028},{"t":2013.428,"v":-0.051},{"t":2013.445,"v":-0.055},{"t":2013.458,"v":-0.060},{"t":2013.472,"v":-0.069},{"t":2013.486,"v":-0.074},{"t":2013.499,"v":-0.087},{"t":2013.513,"v":-0.101},{"t":2013.530,"v":-0.115},{"t":2013.547,"v":-0.133},{"t":2013.567,"v":-0.137},{"t":2013.588,"v":-0.142},{"t":2013.608,"v":-0.133},{"t":2013.622,"v":-0.115},{"t":2013.635,"v":-0.101},{"t":2013.649,"v":-0.092},{"t":2013.663,"v":-0.078},{"t":2013.676,"v":-0.069},{"t":2013.690,"v":-0.096},{"t":2013.700,"v":-0.065},{"t":2013.717,"v":-0.046},{"t":2013.734,"v":-0.037},{"t":2013.751,"v":-0.024},{"t":2013.772,"v":-0.015},{"t":2013.785,"v":-0.001},{"t":2013.802,"v":0.013},{"t":2013.819,"v":0.035},{"t":2013.833,"v":0.054},{"t":2013.847,"v":0.060},{"t":2013.860,"v":0.063},{"t":2013.874,"v":0.072},{"t":2013.888,"v":0.063},{"t":2013.908,"v":0.054},{"t":2013.928,"v":0.067},{"t":2013.942,"v":0.081},{"t":2013.956,"v":0.072},{"t":2013.969,"v":0.065},{"t":2013.983,"v":0.058},{"t":2013.997,"v":0.063},{"t":2014.010,"v":0.072},{"t":2014.024,"v":0.058},{"t":2014.037,"v":0.063},{"t":2014.051,"v":0.076},{"t":2014.065,"v":0.081},{"t":2014.078,"v":0.095},{"t":2014.092,"v":0.083},{"t":2014.106,"v":0.085},{"t":2014.119,"v":0.072},{"t":2014.133,"v":0.067},{"t":2014.153,"v":0.063},{"t":2014.174,"v":0.058},{"t":2014.194,"v":0.060},{"t":2014.215,"v":0.056},{"t":2014.235,"v":0.063},{"t":2014.256,"v":0.051},{"t":2014.276,"v":0.038},{"t":2014.296,"v":0.031},{"t":2014.317,"v":0.024},{"t":2014.337,"v":0.024},{"t":2014.358,"v":0.017},{"t":2014.378,"v":-0.001},{"t":2014.399,"v":-0.019},{"t":2014.419,"v":-0.042},{"t":2014.433,"v":-0.055},{"t":2014.446,"v":-0.065},{"t":2014.460,"v":-0.060},{"t":2014.474,"v":-0.074},{"t":2014.494,"v":-0.092},{"t":2014.508,"v":-0.105},{"t":2014.521,"v":-0.119},{"t":2014.535,"v":-0.128},{"t":2014.555,"v":-0.133},{"t":2014.576,"v":-0.140},{"t":2014.596,"v":-0.137},{"t":2014.610,"v":-0.119},{"t":2014.624,"v":-0.101},{"t":2014.637,"v":-0.096},{"t":2014.651,"v":-0.083},{"t":2014.664,"v":-0.074},{"t":2014.678,"v":-0.074},{"t":2014.692,"v":-0.096},{"t":2014.705,"v":-0.065},{"t":2014.719,"v":-0.046},{"t":2014.733,"v":-0.042},{"t":2014.746,"v":-0.033},{"t":2014.760,"v":-0.024},{"t":2014.773,"v":-0.017},{"t":2014.787,"v":-0.010},{"t":2014.801,"v":0.008},{"t":2014.814,"v":0.026},{"t":2014.828,"v":0.047},{"t":2014.842,"v":0.058},{"t":2014.855,"v":0.063},{"t":2014.869,"v":0.072},{"t":2014.882,"v":0.067},{"t":2014.896,"v":0.058},{"t":2014.910,"v":0.063},{"t":2014.923,"v":0.076},{"t":2014.937,"v":0.081},{"t":2014.951,"v":0.067},{"t":2014.964,"v":0.072},{"t":2014.978,"v":0.063},{"t":2014.991,"v":0.067},{"t":2015.005,"v":0.063},{"t":2015.019,"v":0.067},{"t":2015.032,"v":0.076},{"t":2015.046,"v":0.081},{"t":2015.060,"v":0.081},{"t":2015.073,"v":0.095},{"t":2015.087,"v":0.085},{"t":2015.100,"v":0.083},{"t":2015.114,"v":0.072},{"t":2015.135,"v":0.065},{"t":2015.155,"v":0.063},{"t":2015.175,"v":0.058},{"t":2015.196,"v":0.060},{"t":2015.216,"v":0.054},{"t":2015.237,"v":0.063},{"t":2015.257,"v":0.049},{"t":2015.278,"v":0.035},{"t":2015.298,"v":0.031},{"t":2015.319,"v":0.024},{"t":2015.339,"v":0.026},{"t":2015.359,"v":0.017},{"t":2015.380,"v":-0.001},{"t":2015.400,"v":-0.019},{"t":2015.421,"v":-0.042},{"t":2015.438,"v":-0.055},{"t":2015.455,"v":-0.060},{"t":2015.472,"v":-0.069},{"t":2015.489,"v":-0.078},{"t":2015.506,"v":-0.092},{"t":2015.523,"v":-0.110},{"t":2015.540,"v":-0.124},{"t":2015.557,"v":-0.133},{"t":2015.578,"v":-0.135},{"t":2015.598,"v":-0.140},{"t":2015.618,"v":-0.133},{"t":2015.632,"v":-0.119},{"t":2015.646,"v":-0.101},{"t":2015.659,"v":-0.096},{"t":2015.673,"v":-0.083},{"t":2015.687,"v":-0.074},{"t":2015.693,"v":-0.099},{"t":2015.707,"v":-0.065},{"t":2015.721,"v":-0.046},{"t":2015.734,"v":-0.040},{"t":2015.755,"v":-0.028},{"t":2015.775,"v":-0.017},{"t":2015.796,"v":-0.005},{"t":2015.813,"v":0.022},{"t":2015.830,"v":0.049},{"t":2015.843,"v":0.060},{"t":2015.864,"v":0.063},{"t":2015.877,"v":0.072},{"t":2015.891,"v":0.063},{"t":2015.905,"v":0.065},{"t":2015.918,"v":0.076},{"t":2015.932,"v":0.085},{"t":2015.946,"v":0.072},{"t":2015.959,"v":0.076},{"t":2015.973,"v":0.067},{"t":2015.986,"v":0.065},{"t":2016.000,"v":0.072},{"t":2016.014,"v":0.063},{"t":2016.027,"v":0.076},{"t":2016.041,"v":0.081},{"t":2016.054,"v":0.081},{"t":2016.068,"v":0.097},{"t":2016.082,"v":0.090},{"t":2016.095,"v":0.083},{"t":2016.109,"v":0.081},{"t":2016.123,"v":0.072},{"t":2016.143,"v":0.067},{"t":2016.164,"v":0.063},{"t":2016.184,"v":0.060},{"t":2016.204,"v":0.058},{"t":2016.225,"v":0.063},{"t":2016.245,"v":0.051},{"t":2016.266,"v":0.038},{"t":2016.286,"v":0.031},{"t":2016.307,"v":0.026},{"t":2016.327,"v":0.024},{"t":2016.348,"v":0.017},{"t":2016.368,"v":0.008},{"t":2016.388,"v":-0.010},{"t":2016.409,"v":-0.033},{"t":2016.429,"v":-0.055},{"t":2016.443,"v":-0.060},{"t":2016.460,"v":-0.069},{"t":2016.477,"v":-0.078},{"t":2016.497,"v":-0.092},{"t":2016.511,"v":-0.105},{"t":2016.532,"v":-0.119},{"t":2016.552,"v":-0.128},{"t":2016.572,"v":-0.135},{"t":2016.593,"v":-0.140},{"t":2016.613,"v":-0.135},{"t":2016.634,"v":-0.119},{"t":2016.647,"v":-0.105},{"t":2016.661,"v":-0.099},{"t":2016.675,"v":-0.083},{"t":2016.688,"v":-0.078},{"t":2016.702,"v":-0.096},{"t":2016.716,"v":-0.065},{"t":2016.729,"v":-0.046},{"t":2016.750,"v":-0.037},{"t":2016.770,"v":-0.019},{"t":2016.790,"v":-0.015},{"t":2016.811,"v":-0.001},{"t":2016.825,"v":0.026},{"t":2016.838,"v":0.054},{"t":2016.852,"v":0.063},{"t":2016.872,"v":0.063},{"t":2016.886,"v":0.076},{"t":2016.900,"v":0.067},{"t":2016.913,"v":0.070},{"t":2016.927,"v":0.076},{"t":2016.940,"v":0.085},{"t":2016.954,"v":0.076},{"t":2016.968,"v":0.081},{"t":2016.981,"v":0.067},{"t":2016.995,"v":0.065},{"t":2017.009,"v":0.072},{"t":2017.022,"v":0.067},{"t":2017.036,"v":0.076},{"t":2017.049,"v":0.081},{"t":2017.063,"v":0.085},{"t":2017.077,"v":0.098},{"t":2017.090,"v":0.090},{"t":2017.104,"v":0.085},{"t":2017.118,"v":0.079},{"t":2017.131,"v":0.081},{"t":2017.152,"v":0.072},{"t":2017.172,"v":0.065},{"t":2017.193,"v":0.063},{"t":2017.213,"v":0.060},{"t":2017.233,"v":0.058},{"t":2017.254,"v":0.054},{"t":2017.274,"v":0.035},{"t":2017.295,"v":0.022},{"t":2017.315,"v":0.031},{"t":2017.336,"v":0.026},{"t":2017.356,"v":0.013},{"t":2017.377,"v":0.008},{"t":2017.397,"v":-0.010},{"t":2017.414,"v":-0.030},{"t":2017.433,"v":-0.040},{"t":2017.450,"v":-0.060},{"t":2017.474,"v":-0.078},{"t":2017.495,"v":-0.092},{"t":2017.515,"v":-0.105},{"t":2017.536,"v":-0.119},{"t":2017.557,"v":-0.126},{"t":2017.577,"v":-0.133},{"t":2017.598,"v":-0.137},{"t":2017.612,"v":-0.135},{"t":2017.625,"v":-0.124},{"t":2017.646,"v":-0.115},{"t":2017.667,"v":-0.101},{"t":2017.680,"v":-0.083},{"t":2017.694,"v":-0.105},{"t":2017.708,"v":-0.074},{"t":2017.729,"v":-0.069},{"t":2017.749,"v":-0.065},{"t":2017.763,"v":-0.046},{"t":2017.777,"v":-0.024},{"t":2017.790,"v":-0.015},{"t":2017.804,"v":-0.001},{"t":2017.818,"v":0.026},{"t":2017.832,"v":0.054},{"t":2017.845,"v":0.063},{"t":2017.866,"v":0.067},{"t":2017.880,"v":0.081},{"t":2017.893,"v":0.072},{"t":2017.907,"v":0.060},{"t":2017.921,"v":0.072},{"t":2017.942,"v":0.092},{"t":2017.955,"v":0.081},{"t":2017.969,"v":0.085},{"t":2017.983,"v":0.072},{"t":2017.997,"v":0.070},{"t":2018.017,"v":0.081},{"t":2018.038,"v":0.081},{"t":2018.058,"v":0.085},{"t":2018.079,"v":0.098},{"t":2018.093,"v":0.090},{"t":2018.107,"v":0.083},{"t":2018.120,"v":0.079},{"t":2018.141,"v":0.070},{"t":2018.162,"v":0.076},{"t":2018.182,"v":0.081},{"t":2018.196,"v":0.074},{"t":2018.210,"v":0.083},{"t":2018.230,"v":0.067},{"t":2018.251,"v":0.054},{"t":2018.271,"v":0.040},{"t":2018.292,"v":0.022},{"t":2018.313,"v":0.024},{"t":2018.333,"v":0.029},{"t":2018.354,"v":0.017},{"t":2018.375,"v":0.008},{"t":2018.395,"v":-0.010},{"t":2018.416,"v":-0.033},{"t":2018.436,"v":-0.065},{"t":2018.457,"v":-0.074},{"t":2018.478,"v":-0.087},{"t":2018.498,"v":-0.110},{"t":2018.519,"v":-0.115},{"t":2018.540,"v":-0.124},{"t":2018.553,"v":-0.135},{"t":2018.567,"v":-0.128},{"t":2018.581,"v":-0.137},{"t":2018.595,"v":-0.133},{"t":2018.608,"v":-0.137},{"t":2018.622,"v":-0.124},{"t":2018.643,"v":-0.115},{"t":2018.663,"v":-0.101},{"t":2018.677,"v":-0.078},{"t":2018.691,"v":-0.096},{"t":2018.704,"v":-0.074},{"t":2018.725,"v":-0.065},{"t":2018.746,"v":-0.060},{"t":2018.759,"v":-0.046},{"t":2018.773,"v":-0.015},{"t":2018.787,"v":-0.010},{"t":2018.808,"v":0.004},{"t":2018.821,"v":0.054},{"t":2018.835,"v":0.063},{"t":2018.849,"v":0.067},{"t":2018.863,"v":0.076},{"t":2018.876,"v":0.067},{"t":2018.890,"v":0.060},{"t":2018.911,"v":0.072},{"t":2018.931,"v":0.090},{"t":2018.945,"v":0.081},{"t":2018.959,"v":0.072},{"t":2018.979,"v":0.076},{"t":2019.000,"v":0.070},{"t":2019.014,"v":0.076},{"t":2019.034,"v":0.072},{"t":2019.055,"v":0.081},{"t":2019.069,"v":0.090},{"t":2019.082,"v":0.099},{"t":2019.096,"v":0.085},{"t":2019.110,"v":0.090},{"t":2019.124,"v":0.076},{"t":2019.137,"v":0.072},{"t":2019.158,"v":0.081},{"t":2019.179,"v":0.074},{"t":2019.199,"v":0.081},{"t":2019.220,"v":0.067},{"t":2019.241,"v":0.054},{"t":2019.261,"v":0.040},{"t":2019.282,"v":0.031},{"t":2019.302,"v":0.017},{"t":2019.323,"v":0.022},{"t":2019.344,"v":0.013},{"t":2019.364,"v":0.008},{"t":2019.385,"v":0.004},{"t":2019.405,"v":-0.024},{"t":2019.426,"v":-0.042},{"t":2019.447,"v":-0.074},{"t":2019.467,"v":-0.083},{"t":2019.488,"v":-0.101},{"t":2019.509,"v":-0.110},{"t":2019.522,"v":-0.124},{"t":2019.536,"v":-0.137},{"t":2019.550,"v":-0.128},{"t":2019.564,"v":-0.142},{"t":2019.577,"v":-0.133},{"t":2019.591,"v":-0.137},{"t":2019.605,"v":-0.128},{"t":2019.619,"v":-0.121},{"t":2019.632,"v":-0.115},{"t":2019.646,"v":-0.101},{"t":2019.660,"v":-0.074},{"t":2019.674,"v":-0.087},{"t":2019.687,"v":-0.069},{"t":2019.701,"v":-0.065},{"t":2019.715,"v":-0.055},{"t":2019.729,"v":-0.042},{"t":2019.742,"v":-0.024},{"t":2019.756,"v":-0.010},{"t":2019.770,"v":-0.003},{"t":2019.784,"v":-0.001},{"t":2019.797,"v":0.035},{"t":2019.811,"v":0.063},{"t":2019.825,"v":0.067},{"t":2019.838,"v":0.072},{"t":2019.852,"v":0.076},{"t":2019.866,"v":0.063},{"t":2019.880,"v":0.076},{"t":2019.893,"v":0.083},{"t":2019.907,"v":0.081},{"t":2019.921,"v":0.090},{"t":2019.935,"v":0.081},{"t":2019.948,"v":0.085},{"t":2019.962,"v":0.072},{"t":2019.976,"v":0.070},{"t":2019.997,"v":0.076},{"t":2020.017,"v":0.081},{"t":2020.038,"v":0.083},{"t":2020.058,"v":0.085},{"t":2020.072,"v":0.101},{"t":2020.086,"v":0.090},{"t":2020.100,"v":0.081},{"t":2020.113,"v":0.081},{"t":2020.127,"v":0.072},{"t":2020.148,"v":0.076},{"t":2020.168,"v":0.081},{"t":2020.189,"v":0.083},{"t":2020.210,"v":0.085},{"t":2020.223,"v":0.076},{"t":2020.244,"v":0.058},{"t":2020.265,"v":0.040},{"t":2020.285,"v":0.026},{"t":2020.306,"v":0.017},{"t":2020.326,"v":0.022},{"t":2020.347,"v":0.008},{"t":2020.368,"v":-0.001},{"t":2020.388,"v":-0.010},{"t":2020.409,"v":-0.033},{"t":2020.430,"v":-0.055},{"t":2020.450,"v":-0.074},{"t":2020.471,"v":-0.083},{"t":2020.485,"v":-0.096},{"t":2020.498,"v":-0.110},{"t":2020.512,"v":-0.119},{"t":2020.526,"v":-0.128},{"t":2020.540,"v":-0.142},{"t":2020.553,"v":-0.146},{"t":2020.567,"v":-0.133},{"t":2020.581,"v":-0.137},{"t":2020.595,"v":-0.133},{"t":2020.608,"v":-0.128},{"t":2020.622,"v":-0.124},{"t":2020.636,"v":-0.115},{"t":2020.649,"v":-0.092},{"t":2020.663,"v":-0.074},{"t":2020.677,"v":-0.083},{"t":2020.691,"v":-0.065},{"t":2020.704,"v":-0.060},{"t":2020.718,"v":-0.046},{"t":2020.732,"v":-0.024},{"t":2020.746,"v":-0.015},{"t":2020.760,"v":-0.005},{"t":2020.773,"v":0.004},{"t":2020.787,"v":0.031},{"t":2020.801,"v":0.049},{"t":2020.814,"v":0.063},{"t":2020.828,"v":0.067},{"t":2020.842,"v":0.076},{"t":2020.856,"v":0.081},{"t":2020.869,"v":0.067},{"t":2020.883,"v":0.076},{"t":2020.897,"v":0.085},{"t":2020.911,"v":0.076},{"t":2020.924,"v":0.083},{"t":2020.938,"v":0.090},{"t":2020.952,"v":0.076},{"t":2020.973,"v":0.072},{"t":2020.993,"v":0.081},{"t":2021.014,"v":0.083},{"t":2021.034,"v":0.090},{"t":2021.055,"v":0.085},{"t":2021.076,"v":0.101},{"t":2021.089,"v":0.090},{"t":2021.103,"v":0.085},{"t":2021.124,"v":0.076},{"t":2021.144,"v":0.081},{"t":2021.165,"v":0.076},{"t":2021.186,"v":0.083},{"t":2021.206,"v":0.090},{"t":2021.227,"v":0.063},{"t":2021.247,"v":0.045},{"t":2021.268,"v":0.035},{"t":2021.289,"v":0.022},{"t":2021.309,"v":0.022},{"t":2021.330,"v":0.013},{"t":2021.351,"v":0.008},{"t":2021.371,"v":-0.001},{"t":2021.385,"v":-0.024},{"t":2021.405,"v":-0.046},{"t":2021.419,"v":-0.065},{"t":2021.440,"v":-0.074},{"t":2021.454,"v":-0.087},{"t":2021.467,"v":-0.101},{"t":2021.481,"v":-0.119},{"t":2021.495,"v":-0.133},{"t":2021.509,"v":-0.142},{"t":2021.522,"v":-0.133},{"t":2021.536,"v":-0.146},{"t":2021.550,"v":-0.128},{"t":2021.564,"v":-0.135},{"t":2021.577,"v":-0.128},{"t":2021.591,"v":-0.133},{"t":2021.605,"v":-0.124},{"t":2021.618,"v":-0.119},{"t":2021.632,"v":-0.101},{"t":2021.646,"v":-0.092},{"t":2021.660,"v":-0.074},{"t":2021.674,"v":-0.065},{"t":2021.687,"v":-0.087},{"t":2021.701,"v":-0.069},{"t":2021.715,"v":-0.065},{"t":2021.729,"v":-0.060},{"t":2021.742,"v":-0.046},{"t":2021.756,"v":-0.028},{"t":2021.770,"v":-0.015},{"t":2021.784,"v":-0.005},{"t":2021.797,"v":0.013},{"t":2021.811,"v":0.049},{"t":2021.825,"v":0.067},{"t":2021.838,"v":0.072},{"t":2021.852,"v":0.076},{"t":2021.866,"v":0.081},{"t":2021.880,"v":0.067},{"t":2021.893,"v":0.058},{"t":2021.907,"v":0.072},{"t":2021.921,"v":0.076},{"t":2021.935,"v":0.081},{"t":2021.948,"v":0.090},{"t":2021.962,"v":0.083},{"t":2021.976,"v":0.081},{"t":2021.990,"v":0.076},{"t":2022.003,"v":0.079},{"t":2022.017,"v":0.072},{"t":2022.031,"v":0.074}
    ],
    "trend": [
{"t":2013.315,"v":34.2024},{"t":2013.41,"v":34.2023},{"t":2013.513,"v":34.202},{"t":2013.632,"v":34.2014},{"t":2013.751,"v":34.2009},{"t":2013.853,"v":34.2005},{"t":2013.99,"v":34.2004},{"t":2014.092,"v":34.1999},{"t":2014.194,"v":34.1993},{"t":2014.296,"v":34.1972},{"t":2014.371,"v":34.1948},{"t":2014.467,"v":34.1921},{"t":2014.535,"v":34.1899},{"t":2014.637,"v":34.1886},{"t":2014.722,"v":34.1875},{"t":2014.807,"v":34.1891},{"t":2014.91,"v":34.1906},{"t":2015.073,"v":34.1928},{"t":2015.25,"v":34.1913},{"t":2015.319,"v":34.1891},{"t":2015.421,"v":34.1857},{"t":2015.523,"v":34.183},{"t":2015.625,"v":34.1805},{"t":2015.761,"v":34.1779},{"t":2015.864,"v":34.1769},{"t":2015.966,"v":34.1754},{"t":2016.102,"v":34.1713},{"t":2016.204,"v":34.1688},{"t":2016.3,"v":34.1665},{"t":2016.409,"v":34.166},{"t":2016.477,"v":34.1656},{"t":2016.579,"v":34.1661},{"t":2016.647,"v":34.1663},{"t":2016.733,"v":34.1648},{"t":2016.835,"v":34.163},{"t":2016.92,"v":34.1582},{"t":2017.005,"v":34.1556},{"t":2017.09,"v":34.1546},{"t":2017.176,"v":34.1528},{"t":2017.261,"v":34.1551},{"t":2017.363,"v":34.1587},{"t":2017.433,"v":34.1615},{"t":2017.536,"v":34.1662},{"t":2017.708,"v":34.1702},{"t":2017.88,"v":34.1725},{"t":2018.052,"v":34.1715},{"t":2018.241,"v":34.1646},{"t":2018.412,"v":34.154},{"t":2018.584,"v":34.1478},{"t":2018.756,"v":34.1468},{"t":2018.945,"v":34.1487},{"t":2019.117,"v":34.1517},{"t":2019.289,"v":34.1576},{"t":2019.46,"v":34.1633},{"t":2019.615,"v":34.1641},{"t":2019.821,"v":34.1611},{"t":2019.993,"v":34.1611},{"t":2020.165,"v":34.1657},{"t":2020.337,"v":34.1692},{"t":2020.509,"v":34.1702},{"t":2020.68,"v":34.1712},{"t":2020.852,"v":34.1727},{"t":2021.024,"v":34.1737},{"t":2021.196,"v":34.1768},{"t":2021.368,"v":34.1815},{"t":2021.557,"v":34.1859},{"t":2021.729,"v":34.1899},{"t":2021.9,"v":34.1949},{"t":2022.031,"v":34.1998}
    ]
  },
  "columns": 2,
  "spacing": {"row": 16, "column": 1},
  "bounds": "flush",
  "concat": [
    {
      "width": 1005, "height": 200,
      "layer": [
        {"data": {"name": "bands"}, "mark": {"type": "rect", "color": "#D9D9D9", "opacity": 1},
         "encoding": {"x": {"field": "s", "type": "quantitative", "scale": {"domain": [2012.894, 2022.484], "nice": false, "zero": false},
            "axis": {"values": [2013,2014,2015,2016,2017,2018,2019,2020,2021,2022], "labels": false, "ticks": false, "domain": false, "title": null, "grid": true, "gridWidth": {"condition": {"test": "datum.value % 2 === 0", "value": 2}, "value": 1}}},
           "x2": {"field": "e"}}},
        {"data": {"name": "raw"}, "mark": {"type": "line", "color": "#000000", "strokeWidth": 2.3},
         "encoding": {"x": {"field": "t", "type": "quantitative"},
           "y": {"field": "v", "type": "quantitative", "scale": {"domain": [33.9655, 34.3585], "nice": false, "zero": false},
             "axis": {"values": [34.0,34.05,34.1,34.15,34.2,34.25,34.3,34.35], "title": null, "grid": true,
               "gridWidth": {"condition": {"test": "abs(round(datum.value*10)-datum.value*10) < 0.01", "value": 2}, "value": 1},
               "tickOpacity": {"condition": {"test": "abs(round(datum.value*10)-datum.value*10) < 0.01", "value": 1}, "value": 0},
               "labelExpr": "abs(round(datum.value*10)-datum.value*10) < 0.01 ? format(datum.value, '.1f') : ''"}}}}
      ]
    },
    {
      "width": 35, "height": 200,
      "view": {"fill": "#D9D9D9", "stroke": null},
      "data": {"values": [{"lab": "data"}]},
      "mark": {"type": "text", "angle": 90, "fontSize": 23.5, "font": "Liberation Sans", "color": "#1A1A1A", "align": "center", "baseline": "middle"},
      "encoding": {"text": {"field": "lab", "type": "nominal"}}
    },
    {
      "width": 1005, "height": 200,
      "layer": [
        {"data": {"name": "bands"}, "mark": {"type": "rect", "color": "#D9D9D9", "opacity": 1},
         "encoding": {"x": {"field": "s", "type": "quantitative", "scale": {"domain": [2012.894, 2022.484], "nice": false, "zero": false},
            "axis": {"values": [2013,2014,2015,2016,2017,2018,2019,2020,2021,2022], "labels": false, "ticks": false, "domain": false, "title": null, "grid": true, "gridWidth": {"condition": {"test": "datum.value % 2 === 0", "value": 2}, "value": 1}}},
           "x2": {"field": "e"}}},
        {"data": {"name": "resid"}, "mark": {"type": "line", "color": "#000000", "strokeWidth": 2.3},
         "encoding": {"x": {"field": "t", "type": "quantitative"},
           "y": {"field": "v", "type": "quantitative", "scale": {"domain": [-0.161, 0.167], "nice": false, "zero": false},
             "axis": {"values": [-0.15,-0.1,-0.05,0,0.05,0.1,0.15], "title": null, "grid": true,
               "gridWidth": {"condition": {"test": "abs(round(datum.value*10)-datum.value*10) < 0.01", "value": 2}, "value": 1},
               "tickOpacity": {"condition": {"test": "abs(round(datum.value*10)-datum.value*10) < 0.01", "value": 1}, "value": 0},
               "labelExpr": "abs(round(datum.value*10)-datum.value*10) < 0.01 ? (datum.value < 0 ? '-' : '') + format(abs(datum.value), '.1f') : ''"}}}}
      ]
    },
    {
      "width": 35, "height": 200,
      "view": {"fill": "#D9D9D9", "stroke": null},
      "data": {"values": [{"lab": "residual"}]},
      "mark": {"type": "text", "angle": 90, "fontSize": 23.5, "font": "Liberation Sans", "color": "#1A1A1A", "align": "center", "baseline": "middle"},
      "encoding": {"text": {"field": "lab", "type": "nominal"}}
    },
    {
      "width": 1005, "height": 200,
      "layer": [
        {"data": {"name": "bands"}, "mark": {"type": "rect", "color": "#D9D9D9", "opacity": 1},
         "encoding": {"x": {"field": "s", "type": "quantitative", "scale": {"domain": [2012.894, 2022.484], "nice": false, "zero": false},
            "axis": {"values": [2013,2014,2015,2016,2017,2018,2019,2020,2021,2022], "labels": false, "ticks": false, "domain": false, "title": null, "grid": true, "gridWidth": {"condition": {"test": "datum.value % 2 === 0", "value": 2}, "value": 1}}},
           "x2": {"field": "e"}}},
        {"data": {"name": "seas"}, "mark": {"type": "line", "color": "#000000", "strokeWidth": 2.3},
         "encoding": {"x": {"field": "t", "type": "quantitative"},
           "y": {"field": "v", "type": "quantitative", "scale": {"domain": [-0.158, 0.113], "nice": false, "zero": false},
             "axis": {"values": [-0.15,-0.125,-0.1,-0.075,-0.05,-0.025,0,0.025,0.05,0.075,0.1], "title": null, "grid": true,
               "gridWidth": {"condition": {"test": "abs(round(datum.value*20)-datum.value*20) < 0.01", "value": 2}, "value": 1},
               "tickOpacity": {"condition": {"test": "abs(round(datum.value*20)-datum.value*20) < 0.01", "value": 1}, "value": 0},
               "labelExpr": "abs(round(datum.value*20)-datum.value*20) < 0.01 ? (datum.value < -0.001 ? '-' : '') + format(abs(datum.value), '.2f') : ''"}}}}
      ]
    },
    {
      "width": 35, "height": 200,
      "view": {"fill": "#D9D9D9", "stroke": null},
      "data": {"values": [{"lab": "säsong"}]},
      "mark": {"type": "text", "angle": 90, "fontSize": 23.5, "font": "Liberation Sans", "color": "#1A1A1A", "align": "center", "baseline": "middle"},
      "encoding": {"text": {"field": "lab", "type": "nominal"}}
    },
    {
      "width": 1005, "height": 200,
      "layer": [
        {"data": {"name": "bands"}, "mark": {"type": "rect", "color": "#D9D9D9", "opacity": 1},
         "encoding": {"x": {"field": "s", "type": "quantitative", "scale": {"domain": [2012.894, 2022.484], "nice": false, "zero": false},
            "axis": {"values": [2013,2014,2015,2016,2017,2018,2019,2020,2021,2022], "domain": false, "title": null, "grid": true,
              "gridWidth": {"condition": {"test": "datum.value % 2 === 0", "value": 2}, "value": 1},
              "tickOpacity": {"condition": {"test": "datum.value % 2 === 0", "value": 1}, "value": 0},
              "labelExpr": "datum.value % 2 === 0 ? '' + datum.value : ''"}},
           "x2": {"field": "e"}}},
        {"data": {"name": "trend"}, "mark": {"type": "line", "color": "#000000", "strokeWidth": 2.3},
         "encoding": {"x": {"field": "t", "type": "quantitative"},
           "y": {"field": "v", "type": "quantitative", "scale": {"domain": [34.1442, 34.2052], "nice": false, "zero": false},
             "axis": {"values": [34.15,34.16,34.17,34.18,34.19,34.2], "title": null, "grid": true,
               "gridWidth": {"condition": {"test": "abs(round(datum.value*50)-datum.value*50) < 0.01", "value": 2}, "value": 1},
               "tickOpacity": {"condition": {"test": "abs(round(datum.value*50)-datum.value*50) < 0.01", "value": 1}, "value": 0},
               "labelExpr": "abs(round(datum.value*50)-datum.value*50) < 0.01 ? format(datum.value, '.2f') : ''"}}}}
      ]
    },
    {
      "width": 35, "height": 200,
      "view": {"fill": "#D9D9D9", "stroke": null},
      "data": {"values": [{"lab": "trend"}]},
      "mark": {"type": "text", "angle": 90, "fontSize": 23.5, "font": "Liberation Sans", "color": "#1A1A1A", "align": "center", "baseline": "middle"},
      "encoding": {"text": {"field": "lab", "type": "nominal"}}
    }
  ]
}
